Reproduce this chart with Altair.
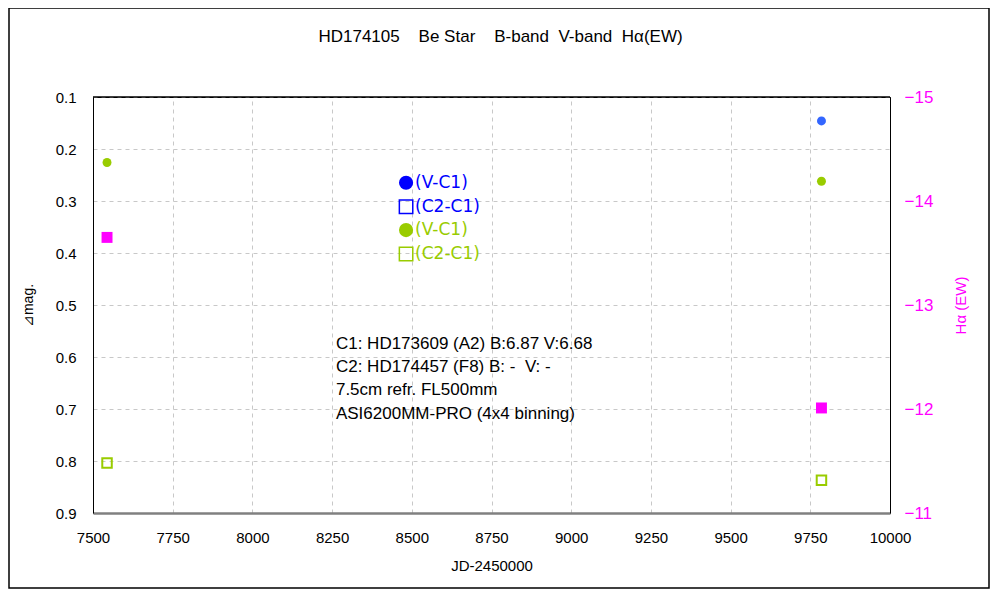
import altair as alt
import pandas as pd

# ---- data ----
b_jd = [9785]
b_v_c1 = [0.146]
v_jd = [7544, 9785]
v_v_c1 = [0.226, 0.262]
v_c2_jd = [7544, 9785]
v_c2_c1 = [0.804, 0.837]
ha_jd = [7544, 9785]
ha_ew = [-13.65, -12.01]

legend_labels = ["(V-C1)", "(C2-C1)", "(V-C1)", "(C2-C1)"]
legend_colors = ["#0000ff", "#0000ff", "#99cc00", "#99cc00"]
legend_filled = [True, False, True, False]
note_lines = [
    "C1: HD173609 (A2) B:6.87 V:6.68",
    "C2: HD174457 (F8) B: -\u00a0\u00a0V: -",
    "7.5cm refr. FL500mm",
    "ASI6200MM-PRO (4x4 binning)",
]
title_text = "HD174105\u00a0\u00a0\u00a0\u00a0Be Star\u00a0\u00a0\u00a0\u00a0B-band\u00a0\u00a0V-band\u00a0\u00a0Hα(EW)"

# annotation anchors (data units)
LEG_X = 8482
LEG_Y = [0.265, 0.311, 0.356, 0.402]
NOTE_X = 8262
NOTE_Y = [0.575, 0.619, 0.663, 0.709]

FONT = "Liberation Sans"
TFONT = "DejaVu Sans"
BLUE_PT = "#3366ff"
GREEN = "#99cc00"
MAGENTA = "#ff00ff"

W, H = 797, 416

mag_df = pd.concat([
    pd.DataFrame({"jd": b_jd, "mag": b_v_c1, "series": "B (V-C1)", "color": BLUE_PT, "kind": "circle"}),
    pd.DataFrame({"jd": v_jd, "mag": v_v_c1, "series": "V (V-C1)", "color": GREEN, "kind": "circle"}),
    pd.DataFrame({"jd": v_c2_jd, "mag": v_c2_c1, "series": "V (C2-C1)", "color": GREEN, "kind": "square"}),
], ignore_index=True)
ha_df = pd.DataFrame({"jd": ha_jd, "ew": ha_ew})
leg_df = pd.DataFrame({"jd": [LEG_X] * 4, "mag": LEG_Y, "label": legend_labels,
                       "color": legend_colors, "filled": legend_filled})
note_df = pd.DataFrame({"jd": [NOTE_X] * 4, "mag": NOTE_Y, "text": note_lines})

xscale = alt.Scale(domain=[7500, 10000], nice=False, zero=False)
yscale = alt.Scale(domain=[0.1, 0.9], reverse=True, nice=False, zero=False)

xaxis = alt.Axis(title="JD-2450000", values=list(range(7500, 10001, 250)), format="d",
                 labelPadding=17, titlePadding=13, ticks=False, domainColor="#808080",
                 domainWidth=2.5, grid=True, titleFontWeight="normal", labelFlush=False,
                 labelFontSize=15, titleFontSize=15)
yaxis = alt.Axis(title="⊿mag.", values=[0.1 * i for i in range(1, 10)], format=".1f",
                 orient="left", labelPadding=17, titlePadding=20, ticks=False, grid=True,
                 titleFontSize=14, titleFontWeight="normal", labelFontSize=15, labelFlush=False)

base = alt.Chart(mag_df)
circles = base.transform_filter(alt.datum.kind == "circle").mark_point(
    shape="circle", filled=True, size=80, opacity=1
).encode(
    x=alt.X("jd:Q", scale=xscale, axis=xaxis),
    y=alt.Y("mag:Q", scale=yscale, axis=yaxis),
    color=alt.Color("color:N", scale=None),
)
squares = base.transform_filter(alt.datum.kind == "square").mark_point(
    shape="square", filled=False, size=90, strokeWidth=2, opacity=1
).encode(
    x=alt.X("jd:Q", scale=xscale),
    y=alt.Y("mag:Q", scale=yscale),
    color=alt.Color("color:N", scale=None),
)

leg = alt.Chart(leg_df)
leg_filled = leg.transform_filter(alt.datum.filled).mark_point(
    shape="circle", filled=True, size=200, opacity=1
).encode(x=alt.X("jd:Q", scale=xscale), y=alt.Y("mag:Q", scale=yscale),
         color=alt.Color("color:N", scale=None))
leg_open = leg.transform_filter(~alt.datum.filled).mark_point(
    shape="square", filled=False, size=180, strokeWidth=1.5, opacity=1
).encode(x=alt.X("jd:Q", scale=xscale), y=alt.Y("mag:Q", scale=yscale),
         color=alt.Color("color:N", scale=None))
leg_text = leg.mark_text(align="left", baseline="middle", dx=9, font=TFONT, fontSize=17).encode(
    x=alt.X("jd:Q", scale=xscale), y=alt.Y("mag:Q", scale=yscale),
    text="label:N", color=alt.Color("color:N", scale=None))

notes = alt.Chart(note_df).mark_text(align="left", baseline="middle", font=FONT,
                                     fontSize=17, color="black").encode(
    x=alt.X("jd:Q", scale=xscale), y=alt.Y("mag:Q", scale=yscale), text="text:N")

one = pd.DataFrame({"t": [title_text]})
frame = alt.Chart(one).mark_rect(
    fillOpacity=0, stroke="black", strokeWidth=1.5
).encode(x=alt.value(-84), x2=alt.value(W + 99), y=alt.value(-89), y2=alt.value(H + 75))
title = alt.Chart(one).mark_text(font=FONT, fontSize=17, align="center", baseline="middle",
                                 color="black").encode(
    x=alt.value(W / 2 + 9), y=alt.value(-60), text="t:N")
top_edge = alt.Chart(one).mark_rule(color="black", strokeWidth=1.5).encode(
    x=alt.value(0), x2=alt.value(W), y=alt.value(0))

left = alt.layer(frame, title, circles, squares, leg_filled, leg_open, leg_text, notes, top_edge)

right = alt.Chart(ha_df).mark_point(shape="square", filled=True, size=120, opacity=1,
                                    color=MAGENTA).encode(
    x=alt.X("jd:Q", scale=xscale),
    y=alt.Y("ew:Q", scale=alt.Scale(domain=[-15, -11], reverse=True, nice=False, zero=False),
            axis=alt.Axis(title="Hα (EW)", orient="right", values=[-15, -14, -13, -12, -11],
                          format="d", labelColor=MAGENTA, titleColor=MAGENTA, grid=False,
                          ticks=False, labelPadding=14, titlePadding=36, titleAngle=270,
                          titleFontSize=15, titleFontWeight="normal", labelFontSize=17,
                          labelFlush=False)),
)

chart = alt.layer(left, right).resolve_scale(y="independent").properties(
    width=W, height=H,
    background="white",
    autosize=alt.AutoSizeParams(type="none"),
    padding={"left": 85, "top": 89, "right": 100, "bottom": 76},
).configure_axis(
    labelFont=FONT, labelFontSize=14, titleFont=FONT, titleFontWeight="normal",
    titleFontSize=14, gridColor="#c8c8c8", gridDash=[4, 4], gridWidth=1,
    domainColor="black", labelColor="black",
).configure_view(stroke="black", strokeWidth=1)

chart.save("out.html", embed_options={"renderer": "svg", "actions": False})
